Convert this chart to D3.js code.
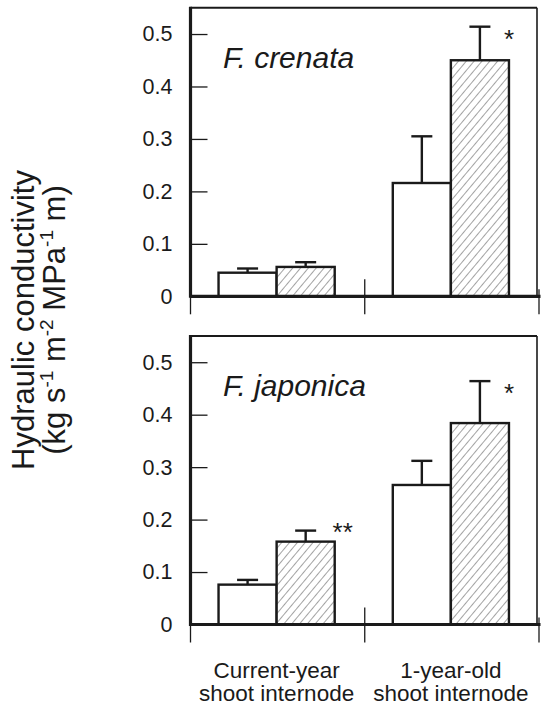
<!DOCTYPE html>
<html>
<head>
<meta charset="utf-8">
<script src="https://cdn.jsdelivr.net/npm/d3@7"></script>
<style>
  html, body { margin: 0; padding: 0; background: #fff; }
  svg { display: block; }
  text { font-family: "Liberation Sans", Arial, Helvetica, sans-serif; fill: #1a1a1a; }
</style>
</head>
<body>
<script>
// Stem segment categories (two-line labels under the x axis)
const categoryLines = [["Current-year", "shoot internode"], ["1-year-old", "shoot internode"]];
const speciesNames = ["F. crenata", "F. japonica"];
const seriesKeys = ["plain", "hatched"];

// Mean hydraulic conductivity and error (SE), per category
const crenataPlain = [0.045, 0.216];
const crenataPlainErr = [0.008, 0.089];
const crenataHatched = [0.056, 0.450];
const crenataHatchedErr = [0.009, 0.064];

const japonicaPlain = [0.076, 0.266];
const japonicaPlainErr = [0.009, 0.046];
const japonicaHatched = [0.158, 0.384];
const japonicaHatchedErr = [0.021, 0.080];

// Significance marks shown beside the hatched bar of each category
const crenataSig = ["", "*"];
const japonicaSig = ["**", "*"];

const yTicks = [0, 0.1, 0.2, 0.3, 0.4, 0.5];
const yMax = 0.55;

const panelsData = [
  { name: speciesNames[0], plain: crenataPlain, plainErr: crenataPlainErr,
    hatched: crenataHatched, hatchedErr: crenataHatchedErr, sig: crenataSig },
  { name: speciesNames[1], plain: japonicaPlain, plainErr: japonicaPlainErr,
    hatched: japonicaHatched, hatchedErr: japonicaHatchedErr, sig: japonicaSig }
];

const W = 541, H = 708;
const svg = d3.select("body").append("svg").attr("width", W).attr("height", H);

// diagonal hatch fill
const defs = svg.append("defs");
const pat = defs.append("pattern")
  .attr("id", "hatch").attr("patternUnits", "userSpaceOnUse")
  .attr("width", 6).attr("height", 6)
  .attr("patternTransform", "rotate(40)");
pat.append("rect").attr("width", 6).attr("height", 6).attr("fill", "#fff");
pat.append("line").attr("x1", 0).attr("y1", 0).attr("x2", 0).attr("y2", 6)
  .attr("stroke", "#333").attr("stroke-width", 0.9);

const xLeft = 190.5, xRight = 539, frameRight = 537;
const x = d3.scaleBand().domain(d3.range(categoryLines.length)).range([xLeft, xRight]).padding(0);
const xs = d3.scaleBand().domain(seriesKeys).range([0, x.bandwidth()]).paddingInner(0).paddingOuter(0.5);

const panelLayout = [{ zero: 296.3, top: 7.8 }, { zero: 624.5, top: 336 }];
const ink = "#1a1a1a";

panelsData.forEach((pd, pi) => {
  const L = panelLayout[pi];
  const y = d3.scaleLinear().domain([0, yMax]).range([L.zero, L.top]);
  const g = svg.append("g");

  // frame: top and right (thin)
  g.append("line").attr("x1", xLeft).attr("x2", frameRight).attr("y1", y(yMax)).attr("y2", y(yMax))
    .attr("stroke", ink).attr("stroke-width", 2);
  g.append("line").attr("x1", frameRight).attr("x2", frameRight).attr("y1", y(yMax)).attr("y2", y(0))
    .attr("stroke", ink).attr("stroke-width", 1.6);

  // y axis with inward ticks
  const yAxis = d3.axisLeft(y).tickValues(yTicks).tickSize(-17).tickPadding(18)
    .tickFormat(d => d === 0 ? "0" : d3.format(".1f")(d));
  const ya = g.append("g").attr("transform", `translate(${xLeft},0)`).call(yAxis);
  ya.select(".domain").remove();
  ya.selectAll(".tick line").attr("stroke", ink).attr("stroke-width", 1.3);
  ya.selectAll(".tick text").attr("font-size", 21.5).attr("fill", ink)
    .style("font-family", '"Liberation Sans", Arial, sans-serif');
  ya.selectAll(".tick").filter(d => d === 0).select("line").remove();

  // bars
  const rows = d3.range(categoryLines.length).flatMap(ci => [
    { ci, key: "plain", v: pd.plain[ci], e: pd.plainErr[ci] },
    { ci, key: "hatched", v: pd.hatched[ci], e: pd.hatchedErr[ci] }
  ]);

  g.selectAll("rect.bar").data(rows).join("rect").attr("class", "bar")
    .attr("x", d => x(d.ci) + xs(d.key) - 1)
    .attr("width", xs.bandwidth())
    .attr("y", d => y(d.v))
    .attr("height", d => y(0) - y(d.v))
    .attr("fill", d => d.key === "hatched" ? "url(#hatch)" : "#fff")
    .attr("stroke", ink).attr("stroke-width", 2.4);

  // error bars (upper only)
  const cx = d => x(d.ci) + xs(d.key) + xs.bandwidth() / 2 - 1;
  g.selectAll("line.err").data(rows).join("line").attr("class", "err")
    .attr("x1", cx).attr("x2", cx)
    .attr("y1", d => y(d.v)).attr("y2", d => y(d.v + d.e))
    .attr("stroke", ink).attr("stroke-width", 2.4);
  g.selectAll("line.cap").data(rows).join("line").attr("class", "cap")
    .attr("x1", d => cx(d) - 10.5).attr("x2", d => cx(d) + 10.5)
    .attr("y1", d => y(d.v + d.e)).attr("y2", d => y(d.v + d.e))
    .attr("stroke", ink).attr("stroke-width", 2.4);

  // significance asterisks: single marks sit just below the cap, double marks above it
  const hat = rows.filter(d => d.key === "hatched");
  g.selectAll("text.sig").data(hat).join("text").attr("class", "sig")
    .attr("text-anchor", "middle")
    .attr("x", d => x(d.ci) + xs("hatched") + xs.bandwidth() - 1 + (pd.sig[d.ci].length > 1 ? 8 : 0))
    .attr("y", d => y(d.v + d.e) + (pd.sig[d.ci].length > 1 ? 10 : 21))
    .attr("font-size", 26)
    .text(d => pd.sig[d.ci]);

  // left axis line and baseline (thick)
  g.append("line").attr("x1", xLeft).attr("x2", xLeft).attr("y1", y(yMax) - 1).attr("y2", y(0) + 1.5)
    .attr("stroke", ink).attr("stroke-width", 3.2);
  g.append("line").attr("x1", xLeft).attr("x2", xRight + 1.5).attr("y1", y(0)).attr("y2", y(0))
    .attr("stroke", ink).attr("stroke-width", 3.2);

  // category boundary ticks on the x axis
  const bounds = [xLeft, ...d3.range(1, categoryLines.length).map(i => x(i)), xRight];
  g.selectAll("line.xt").data(bounds).join("line").attr("class", "xt")
    .attr("x1", d => d).attr("x2", d => d)
    .attr("y1", (d, i) => i === 0 ? y(0) : (i === bounds.length - 1 ? y(0) - 7 : y(0) - 17))
    .attr("y2", y(0) + 18)
    .attr("stroke", ink).attr("stroke-width", 1.3);

  // species name
  g.append("text").attr("x", 223).attr("y", y(yMax) + 60)
    .attr("font-size", 30).attr("font-style", "italic").text(pd.name);
});

// category labels
const catG = svg.append("g");
categoryLines.forEach((lines, ci) => {
  const cxl = x(ci) + x.bandwidth() / 2 - 1;
  const t = catG.append("text").attr("text-anchor", "middle").attr("font-size", 22.5).attr("x", cxl);
  lines.forEach((s, li) => t.append("tspan").attr("x", cxl).attr("y", 678 + li * 22.5).text(s));
});

// y axis title
const yt = svg.append("g").attr("transform", "translate(0,320) rotate(-90)");
yt.append("text").attr("x", 0).attr("y", 34).attr("text-anchor", "middle").attr("font-size", 31)
  .text("Hydraulic conductivity");
const l2 = yt.append("text").attr("x", 0).attr("y", 65).attr("text-anchor", "middle").attr("font-size", 31);
l2.append("tspan").text("(kg s");
l2.append("tspan").attr("font-size", 19).attr("dy", -12).text("-1");
l2.append("tspan").attr("dy", 12).text(" m");
l2.append("tspan").attr("font-size", 19).attr("dy", -12).text("-2");
l2.append("tspan").attr("dy", 12).text(" MPa");
l2.append("tspan").attr("font-size", 19).attr("dy", -12).text("-1");
l2.append("tspan").attr("dy", 12).text(" m)");
</script>
</body>
</html>
